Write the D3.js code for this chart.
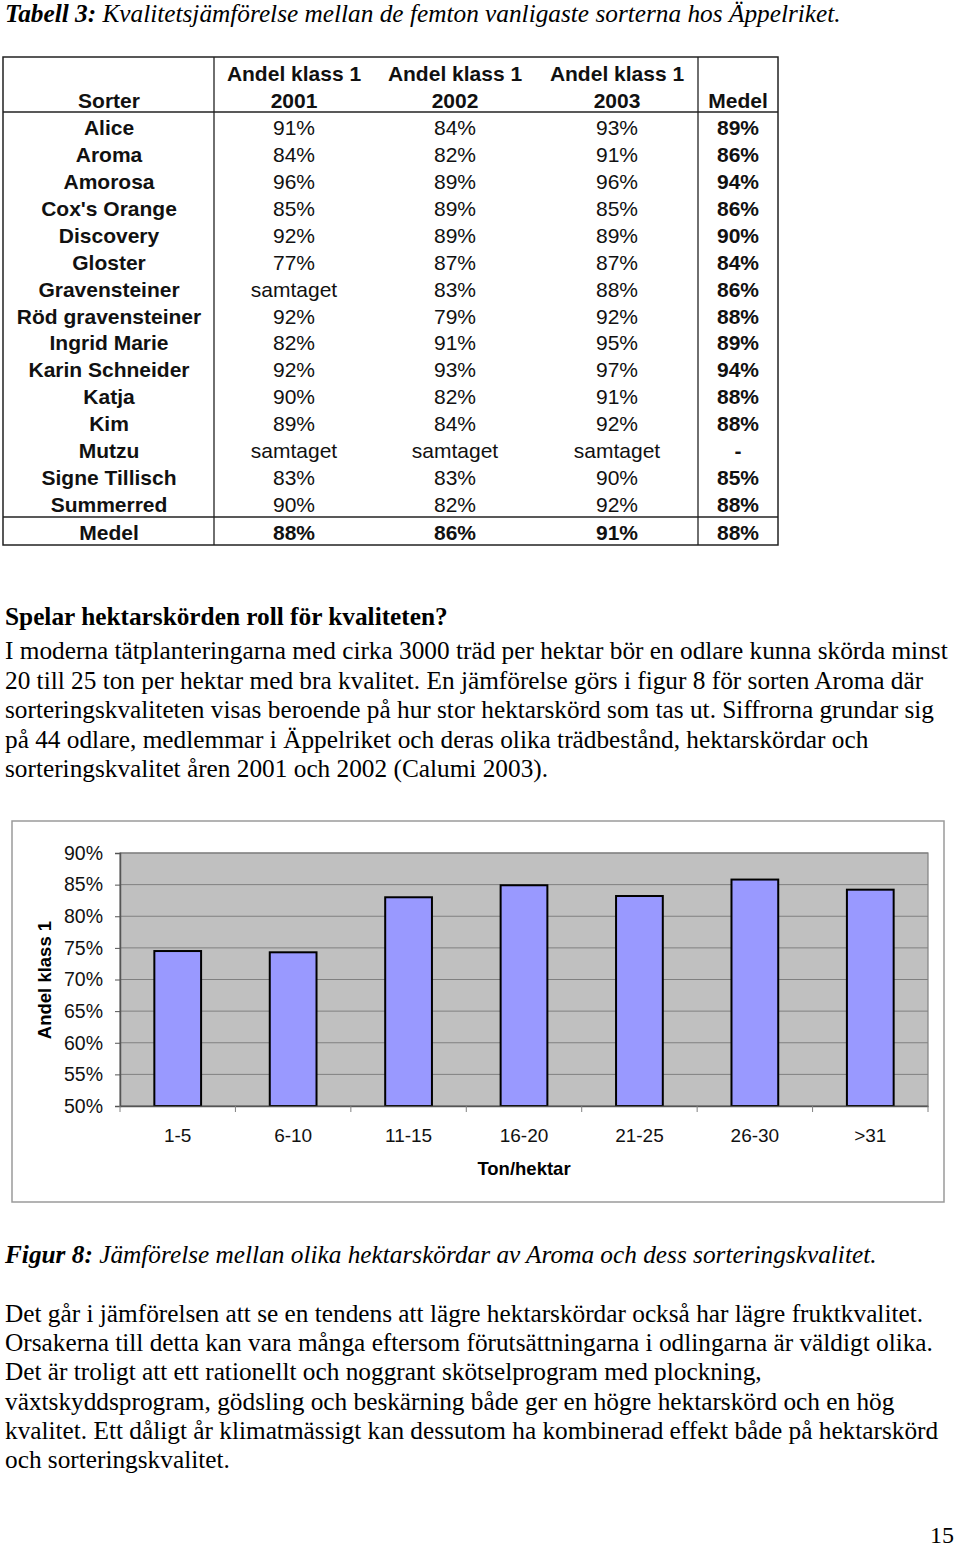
<!DOCTYPE html>
<html><head><meta charset="utf-8">
<script src="https://cdn.jsdelivr.net/npm/d3@7"></script>
<style>body{margin:0;background:#fff}svg{display:block}</style>
</head><body>
<script>
// ---- Table data ----
const tableHeader1 = ["", "Andel klass 1", "Andel klass 1", "Andel klass 1", ""];
const tableHeader2 = ["Sorter", "2001", "2002", "2003", "Medel"];
const sorter = ["Alice","Aroma","Amorosa","Cox's Orange","Discovery","Gloster","Gravensteiner","Röd gravensteiner","Ingrid Marie","Karin Schneider","Katja","Kim","Mutzu","Signe Tillisch","Summerred"];
const klass2001 = ["91%","84%","96%","85%","92%","77%","samtaget","92%","82%","92%","90%","89%","samtaget","83%","90%"];
const klass2002 = ["84%","82%","89%","89%","89%","87%","83%","79%","91%","93%","82%","84%","samtaget","83%","82%"];
const klass2003 = ["93%","91%","96%","85%","89%","87%","88%","92%","95%","97%","91%","92%","samtaget","90%","92%"];
const medel = ["89%","86%","94%","86%","90%","84%","86%","88%","89%","94%","88%","88%","-","85%","88%"];
const medelRow = ["Medel","88%","86%","91%","88%"];

// ---- Chart data ----
const categories = ["1-5","6-10","11-15","16-20","21-25","26-30",">31"];
const values = [0.745, 0.743, 0.830, 0.849, 0.832, 0.858, 0.842];
const yTicks = [0.50,0.55,0.60,0.65,0.70,0.75,0.80,0.85,0.90];
const yTitle = "Andel klass 1";
const xTitle = "Ton/hektar";

// ---- Text ----
const heading = "Spelar hektarskörden roll för kvaliteten?";
const para1 = [
 "I moderna tätplanteringarna med cirka 3000 träd per hektar bör en odlare kunna skörda minst",
 "20 till 25 ton per hektar med bra kvalitet. En jämförelse görs i figur 8 för sorten Aroma där",
 "sorteringskvaliteten visas beroende på hur stor hektarskörd som tas ut. Siffrorna grundar sig",
 "på 44 odlare, medlemmar i Äppelriket och deras olika trädbestånd, hektarskördar och",
 "sorteringskvalitet åren 2001 och 2002 (Calumi 2003)."
];
const para2 = [
 "Det går i jämförelsen att se en tendens att lägre hektarskördar också har lägre fruktkvalitet.",
 "Orsakerna till detta kan vara många eftersom förutsättningarna i odlingarna är väldigt olika.",
 "Det är troligt att ett rationellt och noggrant skötselprogram med plockning,",
 "växtskyddsprogram, gödsling och beskärning både ger en högre hektarskörd och en hög",
 "kvalitet. Ett dåligt år klimatmässigt kan dessutom ha kombinerad effekt både på hektarskörd",
 "och sorteringskvalitet."
];

const W = 960, H = 1547;
const svg = d3.select("body").append("svg").attr("width", W).attr("height", H);
const serif = "'Liberation Serif','Times New Roman',serif";
const sans = "'Liberation Sans',Arial,sans-serif";
const FS = 25.3;

// Title
const t = svg.append("text").attr("x", 5).attr("y", 22)
  .attr("font-family", serif).attr("font-size", FS).attr("font-style", "italic");
t.append("tspan").attr("font-weight", "bold").text("Tabell 3:");
t.append("tspan").text(" Kvalitetsjämförelse mellan de femton vanligaste sorterna hos Äppelriket.");

// ---- Table ----
const tb = svg.append("g");
const colX = [109, 294, 455, 617, 738];
const tL = 3, tR = 778, tT = 57, tB = 545;
tb.append("rect").attr("x", tL).attr("y", tT).attr("width", tR - tL).attr("height", tB - tT)
  .attr("fill", "none").attr("stroke", "#222").attr("stroke-width", 1.5);
[214, 698].forEach(x => tb.append("line").attr("x1", x).attr("x2", x).attr("y1", tT).attr("y2", tB)
  .attr("stroke", "#222").attr("stroke-width", 1.3));
[112, 517].forEach(y => tb.append("line").attr("x1", tL).attr("x2", tR).attr("y1", y).attr("y2", y)
  .attr("stroke", "#222").attr("stroke-width", 1.3));

function cell(x, y, txt, bold) {
  tb.append("text").attr("x", x).attr("y", y).attr("text-anchor", "middle")
    .attr("font-family", sans).attr("font-size", 21).attr("font-weight", bold ? "bold" : "normal")
    .attr("fill", "#111").text(txt);
}
tableHeader1.forEach((h, i) => { if (h) cell(colX[i], 81, h, true); });
tableHeader2.forEach((h, i) => cell(colX[i], 108, h, true));
const rowY = d3.scaleLinear().domain([0, 14]).range([135, 512]);
sorter.forEach((s, i) => {
  const y = rowY(i);
  cell(colX[0], y, s, true);
  cell(colX[1], y, klass2001[i], false);
  cell(colX[2], y, klass2002[i], false);
  cell(colX[3], y, klass2003[i], false);
  cell(colX[4], y, medel[i], true);
});
medelRow.forEach((v, i) => cell(colX[i], 540, v, true));

// ---- Paragraph 1 ----
svg.append("text").attr("x", 5).attr("y", 625).attr("font-family", serif)
  .attr("font-size", FS).attr("font-weight", "bold").text(heading);
para1.forEach((l, i) => svg.append("text").attr("x", 5).attr("y", 659 + i * 29.5)
  .attr("font-family", serif).attr("font-size", FS).text(l));

// ---- Chart ----
svg.append("rect").attr("x", 12).attr("y", 821).attr("width", 932).attr("height", 381)
  .attr("fill", "#fff").attr("stroke", "#9a9a9a").attr("stroke-width", 1.5);

const pL = 120, pR = 928, pT = 853, pB = 1106;
const x = d3.scaleBand().domain(categories).range([pL, pR]).paddingInner(0.595).paddingOuter(0.2975);
const xb = d3.scaleBand().domain(categories).range([pL, pR]);
const y = d3.scaleLinear().domain([0.5, 0.9]).range([pB, pT]);

svg.append("rect").attr("x", pL).attr("y", pT).attr("width", pR - pL).attr("height", pB - pT)
  .attr("fill", "#c0c0c0").attr("stroke", "#808080").attr("stroke-width", 1.2);

const g = svg.append("g");
g.selectAll("line.grid").data(yTicks).join("line").attr("class", "grid")
  .attr("x1", pL).attr("x2", pR).attr("y1", d => y(d)).attr("y2", d => y(d))
  .attr("stroke", "#808080").attr("stroke-width", 1);

g.selectAll("rect.bar").data(values).join("rect").attr("class", "bar")
  .attr("x", (d, i) => x(categories[i])).attr("width", x.bandwidth())
  .attr("y", d => y(d)).attr("height", d => y(0.5) - y(d))
  .attr("fill", "#9999ff").attr("stroke", "#000").attr("stroke-width", 2);

// axes
const yAxis = d3.axisLeft(y).tickValues(yTicks).tickFormat(d3.format(".0%")).tickSize(5).tickPadding(12);
const ya = svg.append("g").attr("transform", `translate(${pL},0)`).call(yAxis);
ya.select(".domain").attr("stroke", "#555").attr("stroke-width", 1.5);
ya.selectAll(".tick line").attr("stroke", "#555");
ya.selectAll("text").attr("font-family", sans).attr("font-size", 19.5).attr("fill", "#111");

const xAxis = d3.axisBottom(xb).tickSize(0).tickPadding(0);
const xa = svg.append("g").attr("transform", `translate(0,${pB})`).call(xAxis);
xa.select(".domain").attr("stroke", "#555").attr("stroke-width", 1.5);
xa.selectAll(".tick text").attr("font-family", sans).attr("font-size", 19).attr("fill", "#111")
  .attr("y", 36).attr("dy", 0);
// boundary ticks between categories
const bounds = categories.map(c => xb(c)).concat([pR]);
svg.append("g").selectAll("line").data(bounds).join("line")
  .attr("x1", d => d).attr("x2", d => d).attr("y1", pB).attr("y2", pB + 6)
  .attr("stroke", "#808080").attr("stroke-width", 1);

svg.append("text").attr("x", (pL + pR) / 2).attr("y", 1175).attr("text-anchor", "middle")
  .attr("font-family", sans).attr("font-size", 18.5).attr("font-weight", "bold").text(xTitle);
svg.append("text").attr("transform", "translate(51,980) rotate(-90)").attr("text-anchor", "middle")
  .attr("font-family", sans).attr("font-size", 18.5).attr("font-weight", "bold").text(yTitle);

// ---- Caption ----
const c = svg.append("text").attr("x", 5).attr("y", 1263)
  .attr("font-family", serif).attr("font-size", FS).attr("font-style", "italic");
c.append("tspan").attr("font-weight", "bold").text("Figur 8:");
c.append("tspan").text(" Jämförelse mellan olika hektarskördar av Aroma och dess sorteringskvalitet.");

para2.forEach((l, i) => svg.append("text").attr("x", 5).attr("y", 1322 + i * 29.2)
  .attr("font-family", serif).attr("font-size", FS).text(l));

svg.append("text").attr("x", 954).attr("y", 1543).attr("text-anchor", "end")
  .attr("font-family", serif).attr("font-size", 24).text("15");
</script>
</body></html>
